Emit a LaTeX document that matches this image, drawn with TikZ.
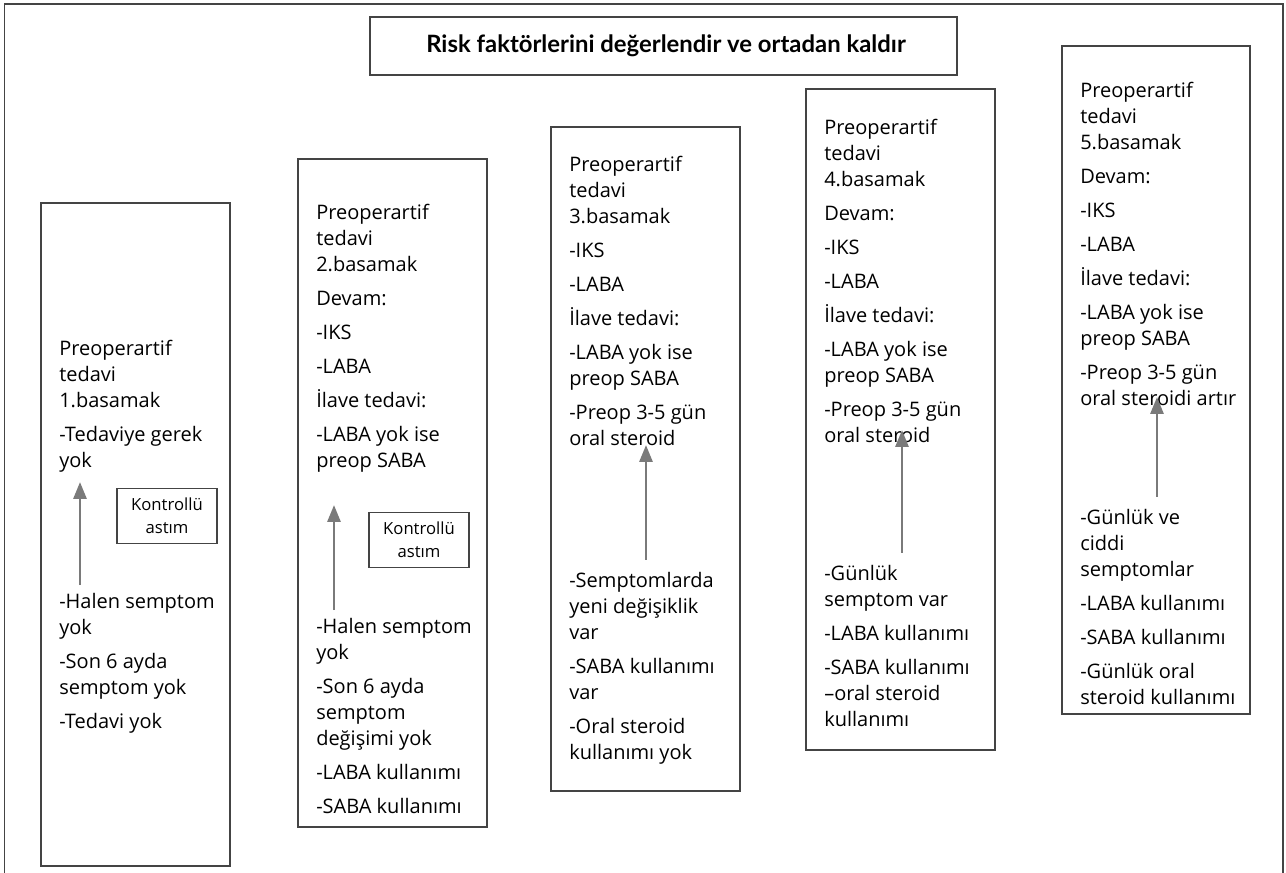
\documentclass[tikz,border=0pt]{standalone}
\usepackage{fontspec}
\setmainfont{Open Sans}
\newfontfamily\titlefont{Lato}
\usetikzlibrary{arrows.meta,fit}
\definecolor{boxc}{HTML}{444444}
\definecolor{arrc}{HTML}{7A7A7A}
\tikzset{
  frame/.style={draw=boxc, line width=1.0pt, inner sep=0pt},
  txt/.style={align=left, inner sep=0pt, anchor=north west, font=\fontsize{15}{19.5}\selectfont, execute at begin node=\strut},
  arr/.style={draw=arrc, line width=2.2pt, -{Triangle[length=12.75pt,width=9.75pt]}},
  ctrl/.style={draw=boxc, line width=0.9pt, align=center, inner sep=0pt,
    minimum width=75pt, minimum height=41pt, font=\fontsize{12.5}{17}\selectfont},
  titlebox/.style={draw=boxc, line width=1.0pt, inner sep=0pt}
}
\begin{document}
\begin{tikzpicture}[x=0.75pt,y=-0.75pt]
\useasboundingbox (0,0) rectangle (1286,873);
% outer frame
\draw[draw=boxc, line width=1.0pt] (4.5,873) -- (4.5,4) -- (1283,4) -- (1283,873);
% title
\node[titlebox, fit={(370,17)(957,75)}] (title) {};
\node[font=\titlefont\bfseries\fontsize{17.9}{20}\selectfont, inner sep=0pt] (titletext) at (666,46) {Risk faktörlerini değerlendir ve ortadan kaldır};
% boxes
\node[frame, fit={(41,203)(230,866)}] (b1) {};
\node[frame, fit={(298,159)(487,827)}] (b2) {};
\node[frame, fit={(551,127)(740,791)}] (b3) {};
\node[frame, fit={(806,89)(995,750)}] (b4) {};
\node[frame, fit={(1062,46)(1250,714)}] (b5) {};
% box 1
\node[txt] (t1) at (59,340) {Preoperartif\\tedavi\\1.basamak\\[6pt]-Tedaviye gerek\\yok};
\node[txt] (c1) at (59,593) {-Halen semptom\\yok\\[6pt]-Son 6 ayda\\semptom yok\\[6pt]-Tedavi yok};
\node[ctrl] (k1) at (167,516) {Kontrollü\\astım};
\coordinate (s1) at (80,585); \coordinate (e1) at (80,482);
\draw[arr] (s1) -- (e1);
% box 2
\node[txt] (t2) at (316,204) {Preoperartif\\tedavi\\2.basamak\\[6pt]Devam:\\[6pt]-IKS\\[6pt]-LABA\\[6pt]İlave tedavi:\\[6pt]-LABA yok ise\\preop SABA};
\node[txt] (c2) at (316,618) {-Halen semptom\\yok\\[6pt]-Son 6 ayda\\semptom\\değişimi yok\\[6pt]-LABA kullanımı\\[6pt]-SABA kullanımı};
\node[ctrl] (k2) at (419,540) {Kontrollü\\astım};
\coordinate (s2) at (334,610); \coordinate (e2) at (334,505);
\draw[arr] (s2) -- (e2);
% box 3
\node[txt] (t3) at (569,156) {Preoperartif\\tedavi\\3.basamak\\[6pt]-IKS\\[6pt]-LABA\\[6pt]İlave tedavi:\\[6pt]-LABA yok ise\\preop SABA\\[6pt]-Preop 3-5 gün\\oral steroid};
\node[txt] (c3) at (569,572) {-Semptomlarda\\yeni değişiklik\\var\\[6pt]-SABA kullanımı\\var\\[6pt]-Oral steroid\\kullanımı yok};
\coordinate (s3) at (646,560); \coordinate (e3) at (646,445);
\draw[arr] (s3) -- (e3);
% box 4
\node[txt] (t4) at (824,119) {Preoperartif\\tedavi\\4.basamak\\[6pt]Devam:\\[6pt]-IKS\\[6pt]-LABA\\[6pt]İlave tedavi:\\[6pt]-LABA yok ise\\preop SABA\\[6pt]-Preop 3-5 gün\\oral steroid};
\node[txt] (c4) at (824,565) {-Günlük\\semptom var\\[6pt]-LABA kullanımı\\[6pt]-SABA kullanımı\\–oral steroid\\kullanımı};
\coordinate (s4) at (902,553); \coordinate (e4) at (902,430);
\draw[arr] (s4) -- (e4);
% box 5
\node[txt] (t5) at (1080,82) {Preoperartif\\tedavi\\5.basamak\\[6pt]Devam:\\[6pt]-IKS\\[6pt]-LABA\\[6pt]İlave tedavi:\\[6pt]-LABA yok ise\\preop SABA\\[6pt]-Preop 3-5 gün\\oral steroidi artır};
\node[txt] (c5) at (1080,509) {-Günlük ve\\ciddi\\semptomlar\\[6pt]-LABA kullanımı\\[6pt]-SABA kullanımı\\[6pt]-Günlük oral\\steroid kullanımı};
\coordinate (s5) at (1157,497); \coordinate (e5) at (1157,397);
\draw[arr] (s5) -- (e5);
\end{tikzpicture}
\end{document}
